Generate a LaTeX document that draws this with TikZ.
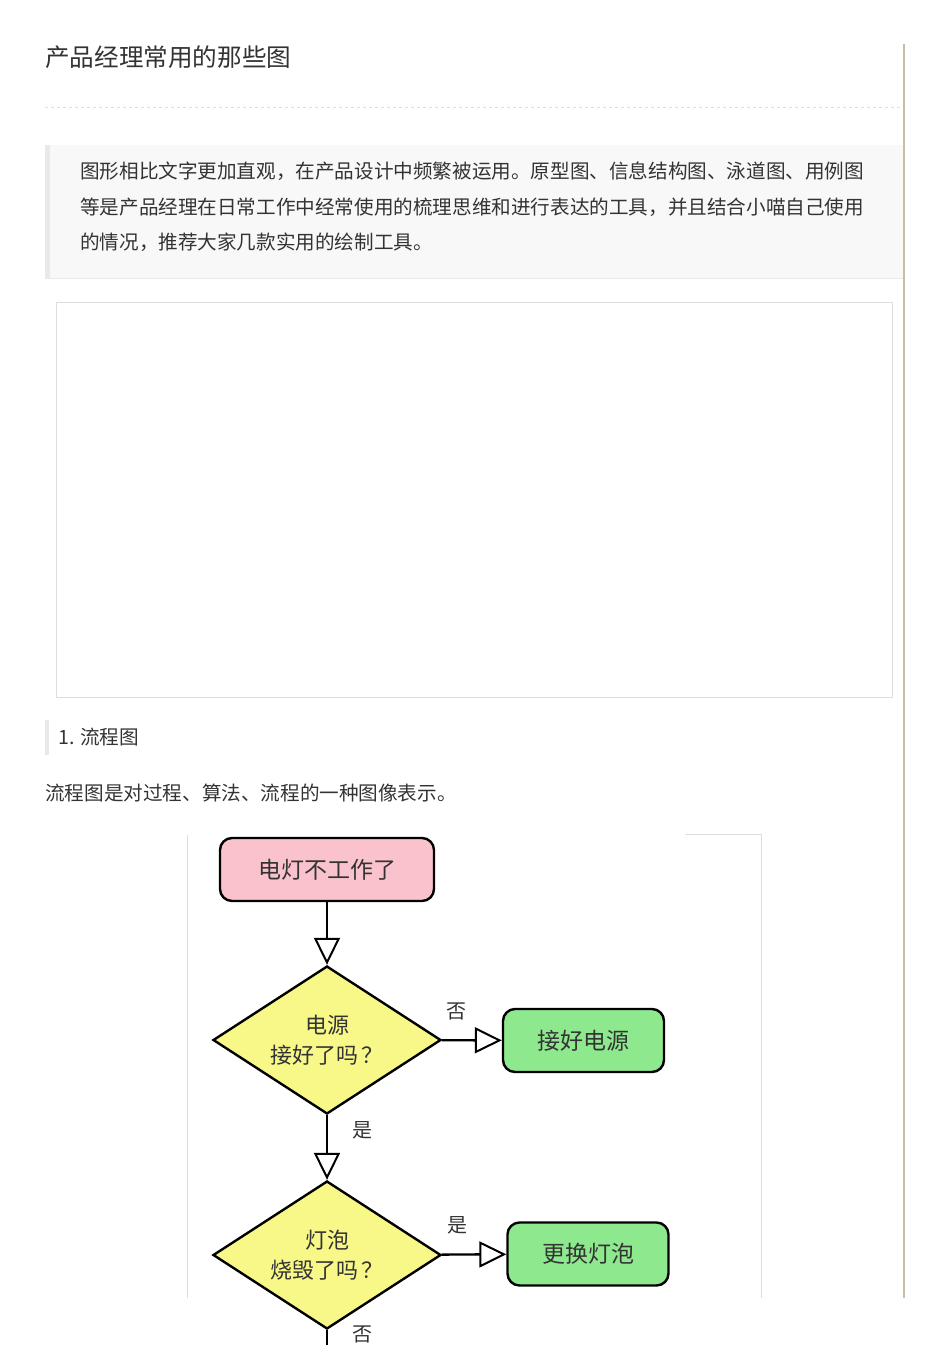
\documentclass[tikz,border=0pt]{standalone}
\usepackage{fontspec}
\setmainfont{Noto Sans CJK SC}
\XeTeXlinebreaklocale "zh"
\XeTeXlinebreakskip=0pt plus 3pt
\usetikzlibrary{arrows.meta,shapes.geometric}
\definecolor{inkgray}{HTML}{333333}
\definecolor{framegray}{HTML}{DEDEDE}
\definecolor{quotebg}{HTML}{F8F8F8}
\definecolor{quotebar}{HTML}{E9E9E9}
\definecolor{sidetan}{HTML}{C8BEA6}
\definecolor{startpink}{HTML}{F9C2CD}
\definecolor{askyellow}{HTML}{F8F889}
\definecolor{fixgreen}{HTML}{8EE98E}

\begin{document}
\begin{tikzpicture}[x=1pt,y=-1pt,
  headline/.style={text=inkgray, inner sep=0pt, anchor=west, font=\fontsize{24.6}{25}\selectfont},
  body/.style={text=inkgray, inner sep=0pt, anchor=west, font=\fontsize{19.6}{20}\selectfont},
  startbox/.style={draw=black, line width=2.4pt, rounded corners=12pt, fill=startpink,
    minimum width=214pt, minimum height=63pt, text=inkgray, font=\fontsize{23}{26}\selectfont},
  fixbox/.style={draw=black, line width=2.4pt, rounded corners=12pt, fill=fixgreen,
    minimum width=161pt, minimum height=63pt, text=inkgray, font=\fontsize{23}{26}\selectfont},
  askbox/.style={diamond, shape aspect=1.54, draw=black, line width=2.4pt, fill=askyellow,
    inner sep=0pt, minimum width=228pt, minimum height=148pt, align=center, text=inkgray,
    font=\fontsize{22}{30}\selectfont},
  flow/.style={line width=2.4pt, -{Triangle[length=27pt, width=26pt, fill=white, line width=2pt]}},
  tag/.style={text=inkgray, inner sep=0pt, font=\fontsize{20}{20}\selectfont}]
\useasboundingbox (0,0) rectangle (950,1345);

% Page header
\node[headline] (title) at (45,57) {产品经理常用的那些图};
\draw[framegray, dashed, line width=0.8pt] (45,107) -- (903,107);
\draw[sidetan, line width=1.5pt] (904,44) -- (904,1298);

% Quote block
\fill[quotebg] (45,145) rectangle (903,278);
\fill[quotebar] (45,145) rectangle (50,278);
\draw[quotebar] (45,278) -- (903,278);
\node[body] (introa) at (80,171) {\makebox[800pt][s]{图形相比文字更加直观，在产品设计中频繁被运用。原型图、信息结构图、泳道图、用例图}};
\node[body] (introb) at (80,207) {\makebox[800pt][s]{等是产品经理在日常工作中经常使用的梳理思维和进行表达的工具，并且结合小喵自己使用}};
\node[body] (introc) at (80,242) {的情况，推荐大家几款实用的绘制工具。};

% Empty picture frame
\draw[framegray] (56,302) rectangle (892,697);

% Section 1
\fill[quotebar] (45,720) rectangle (49,755);
\node[body] (secone) at (58,737) {1. 流程图};
\node[body] (flowdef) at (45,793) {流程图是对过程、算法、流程的一种图像表示。};

% Frame of the flow chart image
\draw[framegray] (187,835) -- (187,1298);
\draw[framegray] (685,834) -- (761,834) -- (761,1298);

% Flow chart
\node[startbox] (lampoff) at (327,869.5) {电灯不工作了};
\node[askbox] (power) at (327,1040) {电源\\接好了吗\,？};
\node[fixbox] (plugin) at (583.5,1040.5) {接好电源};
\node[askbox] (bulb) at (327,1255) {灯泡\\烧毁了吗\,？};
\node[fixbox] (swap) at (588,1254) {更换灯泡};
\coordinate (below) at (327,1360);

\draw[flow] (lampoff) -- (power);
\draw[flow] (power) -- node[tag, pos=0.24, above=19pt] {否} (plugin);
\draw[flow] (power) -- node[tag, pos=0.24, right=24pt] {是} (bulb);
\draw[flow] (bulb) -- node[tag, pos=0.24, above=19pt] {是} (swap);
\draw[line width=2.4pt] (bulb) -- node[tag, pos=0.13, right=24pt] {否} (below);
\end{tikzpicture}
\end{document}
